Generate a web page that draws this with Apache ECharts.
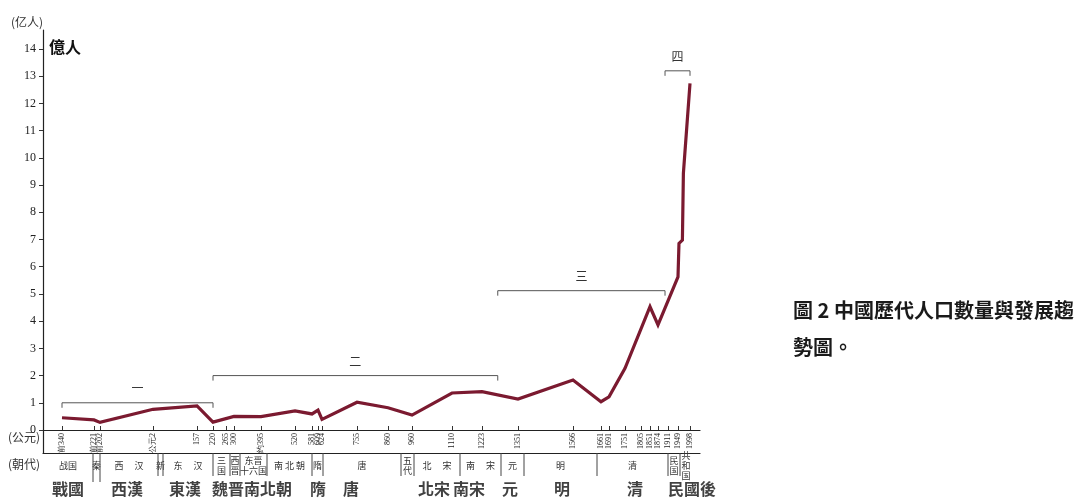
<!DOCTYPE html>
<html>
<head>
<meta charset="utf-8">
<script src="https://cdn.jsdelivr.net/npm/echarts@6/dist/echarts.min.js"></script>
<style>
  html, body { margin: 0; background: #fff; }
  #chart { width: 1081px; height: 504px; }
</style>
</head>
<body>
<div id="chart"></div>
<script>
// The year axis in the original is schematic (not linear), so every year is
// placed through the tick table below: tickYears -> tickPos (axis units).
const tickYears  = [-340, -221, -202, 2, 157, 220, 265, 300, 395, 520, 581, 609, 624, 755, 860, 960,
                    1110, 1223, 1351, 1566, 1661, 1691, 1751, 1805, 1851, 1874, 1911, 1949, 1998]
const tickPos    = [19, 51, 57, 110, 154, 170, 183, 191, 218, 252, 269, 275, 279, 314, 345, 369,
                    409, 439, 475, 530, 558, 566, 582, 598, 607, 615, 625, 635, 647]
const tickLabels = ['前340', '前221', '前202', '公元2', '157', '220', '265', '300', '约395', '520', '581',
                    '609', '624', '755', '860', '960', '1110', '1223', '1351', '1566', '1661', '1691',
                    '1751', '1805', '1851', '1874', '1911', '1949', '1998']
const yTicks = [0, 1, 2, 3, 4, 5, 6, 7, 8, 9, 10, 11, 12, 13, 14]

// population, 亿人
const popYears  = [-340, -221, -202, 2, 157, 220, 300, 395, 520, 581, 609, 624, 755, 860, 960,
                   1110, 1223, 1351, 1566, 1661, 1691, 1751, 1851, 1874, 1949, 1953, 1967, 1971, 1998]
const popValues = [0.45, 0.37, 0.28, 0.76, 0.89, 0.29, 0.50, 0.49, 0.70, 0.59, 0.73, 0.39, 1.02, 0.82, 0.55,
                   1.36, 1.41, 1.14, 1.84, 1.04, 1.22, 2.27, 4.53, 3.86, 5.63, 6.86, 6.98, 9.43, 12.74]

// stage brackets 一 二 三 四
const bracketLabels = ['一', '二', '三', '四']
const bracketFrom   = [-340, 220, 1279, 1900]
const bracketTo     = [220, 1279, 1900, 1998]
const bracketLevel  = [1.0, 2.0, 5.12, 13.2]

// (朝代) row: segment boundaries in axis units
const dynastyBounds = [0, 50, 57, 115, 120, 170, 187, 197, 224, 269, 280, 358, 371, 417, 458, 481, 554, 625, 637, 649]
const dynastyNames  = ['战国', '秦', '西 　汉', '新', '东 　汉', '三\n国', '西\n晋', '东晋\n十六国', '南 北 朝', '隋',
                       '唐', '五\n代', '北 　宋', '南 　宋', '元', '明', '清', '民\n国', '共\n和\n国']
const longDividers  = [1, 2]   // the 秦 dividers run further down

// bold names underneath
const bigNames = ['戰國', '西漢', '東漢', '魏晋南北朝', '隋', '唐', '北宋', '南宋', '元', '明', '清', '民國後']
const bigPos   = [25, 84, 142, 209, 275, 308, 391, 426, 467, 519, 592, 649]

const captionLines = ['圖 2 中國歷代人口數量與發展趨', '勢圖。']

const AXIS_MAX = 657
const SERIF = '"Liberation Serif", "DejaVu Serif", serif'
const CJK = '"Noto Sans CJK SC", sans-serif'
const CJK_TC = '"Noto Sans CJK TC", sans-serif'
const LINE_RED = '#7b1a30'
const AXIS_LINE = { color: '#222', width: 1.2 }

function yearToPos(y) {
  for (let i = 0; i < tickYears.length - 1; i++) {
    if (y <= tickYears[i + 1]) {
      const t = (y - tickYears[i]) / (tickYears[i + 1] - tickYears[i])
      return tickPos[i] + t * (tickPos[i + 1] - tickPos[i])
    }
  }
  return tickPos[tickPos.length - 1]
}

const chart = echarts.init(document.getElementById('chart'), null, { renderer: 'canvas' })

chart.setOption({
  backgroundColor: '#fff',
  animation: false,
  title: [
    { text: '億人', left: 49, top: 39, padding: 0,
      textStyle: { fontFamily: CJK_TC, fontSize: 16, fontWeight: 'bold', color: '#111' } },
    { text: captionLines.join('\n'), left: 793, top: 292, padding: 0,
      textStyle: { fontFamily: CJK_TC, fontSize: 20, fontWeight: 'bold', color: '#1a1a1a', lineHeight: 37 } },
  ],
  grid: [
    { left: 43, right: 381, top: 30, bottom: 74, outerBoundsMode: 'none' },   // plot
    { left: 43, right: 381, top: 430, height: 23, outerBoundsMode: 'none' },  // (公元) band
    { left: 43, right: 381, top: 453, height: 51, outerBoundsMode: 'none' },  // (朝代) rows
  ],
  xAxis: [
    {
      gridIndex: 0, type: 'value', min: 0, max: AXIS_MAX,
      axisLine: { onZero: false, lineStyle: AXIS_LINE },
      axisTick: { inside: true, length: 4, customValues: tickPos, lineStyle: { color: '#333' } },
      axisLabel: {
        customValues: tickPos, rotate: 90, fontSize: 8, fontFamily: SERIF, color: '#222', margin: 3,
        formatter: (v) => tickLabels[tickPos.indexOf(v)] || '',
      },
      splitLine: { show: false },
      name: '(公元)', nameLocation: 'start', nameGap: 3, nameMoveOverlap: false,
      nameTextStyle: { fontFamily: CJK, fontSize: 12, color: '#333', align: 'right', verticalAlign: 'top', padding: [1, 0, 0, 0] },
    },
    {
      gridIndex: 1, type: 'value', min: 0, max: AXIS_MAX,
      axisLine: { onZero: false, lineStyle: AXIS_LINE },
      axisTick: { show: false }, axisLabel: { show: false }, splitLine: { show: false },
      name: '(朝代)', nameLocation: 'start', nameGap: 3, nameMoveOverlap: false,
      nameTextStyle: { fontFamily: CJK, fontSize: 12, color: '#333', align: 'right', verticalAlign: 'top', padding: [5, 0, 0, 0] },
    },
    { gridIndex: 2, type: 'value', show: false, min: 0, max: AXIS_MAX },
  ],
  yAxis: [
    {
      gridIndex: 0, type: 'value', min: 0, max: 14.7,
      axisLine: { show: true, onZero: false, lineStyle: AXIS_LINE },
      axisTick: { show: true, length: 4, customValues: yTicks, lineStyle: { color: '#333' } },
      axisLabel: { customValues: yTicks, fontSize: 12, fontFamily: SERIF, color: '#222', margin: 7 },
      splitLine: { show: false },
      name: '(亿人)', nameLocation: 'end', nameGap: 2, nameMoveOverlap: false,
      nameTextStyle: { fontFamily: CJK, fontSize: 12, color: '#333', align: 'right', verticalAlign: 'bottom' },
    },
    {
      gridIndex: 1, type: 'value', min: 0, max: 1,
      axisLine: { show: true, onZero: false, lineStyle: AXIS_LINE },
      axisTick: { show: false }, axisLabel: { show: false }, splitLine: { show: false },
    },
    { gridIndex: 2, type: 'value', show: false, min: 0, max: 51, inverse: true },
  ],
  series: [
    {
      type: 'line', xAxisIndex: 0, yAxisIndex: 0, z: 3,
      data: popYears.map((y, i) => [yearToPos(y), popValues[i]]),
      showSymbol: false, symbol: 'none',
      lineStyle: { color: LINE_RED, width: 3.2, join: 'miter' },
    },
    {
      type: 'custom', xAxisIndex: 0, yAxisIndex: 0, z: 2,
      data: bracketFrom.map((y, i) => [yearToPos(y), yearToPos(bracketTo[i]), bracketLevel[i]]),
      encode: { x: [0, 1], y: 2 },
      renderItem: (params, api) => {
        const a = api.coord([api.value(0), api.value(2)])
        const b = api.coord([api.value(1), api.value(2)])
        return {
          type: 'group',
          children: [
            { type: 'polyline', shape: { points: [[a[0], a[1] + 5], a, b, [b[0], b[1] + 5]] },
              style: { stroke: '#555', lineWidth: 1, fill: null } },
            { type: 'text', x: (a[0] + b[0]) / 2, y: a[1] - 14,
              style: { text: bracketLabels[params.dataIndex], align: 'center', verticalAlign: 'middle',
                       fontFamily: CJK, fontSize: 12, fill: '#333' } },
          ],
        }
      },
    },
    {
      type: 'custom', xAxisIndex: 2, yAxisIndex: 2,
      data: dynastyNames.map((n, i) => [dynastyBounds[i], dynastyBounds[i + 1]]),
      encode: { x: [0, 1] },
      renderItem: (params, api) => {
        const i = params.dataIndex
        const a = api.coord([api.value(0), 0])
        const b = api.coord([api.value(1), 0])
        const children = []
        if (i > 0) {
          const end = api.coord([api.value(0), longDividers.includes(i) ? 29 : 23])
          children.push({ type: 'line', shape: { x1: a[0], y1: a[1], x2: a[0], y2: end[1] },
                          style: { stroke: '#444', lineWidth: 1 } })
        }
        const mid = api.coord([0, 13])
        children.push({ type: 'text', x: (a[0] + b[0]) / 2, y: mid[1],
          style: { text: dynastyNames[i], align: 'center', verticalAlign: 'middle',
                   fontFamily: CJK, fontSize: 9, lineHeight: 10, fill: '#333' } })
        return { type: 'group', children }
      },
    },
    {
      type: 'scatter', xAxisIndex: 2, yAxisIndex: 2, symbolSize: 0,
      data: bigPos.map((p) => [p, 36]),
      label: {
        show: true, position: 'inside', formatter: (p) => bigNames[p.dataIndex],
        fontFamily: CJK_TC, fontSize: 16, fontWeight: 'bold', color: '#111',
      },
    },
  ],
})
</script>
</body>
</html>
